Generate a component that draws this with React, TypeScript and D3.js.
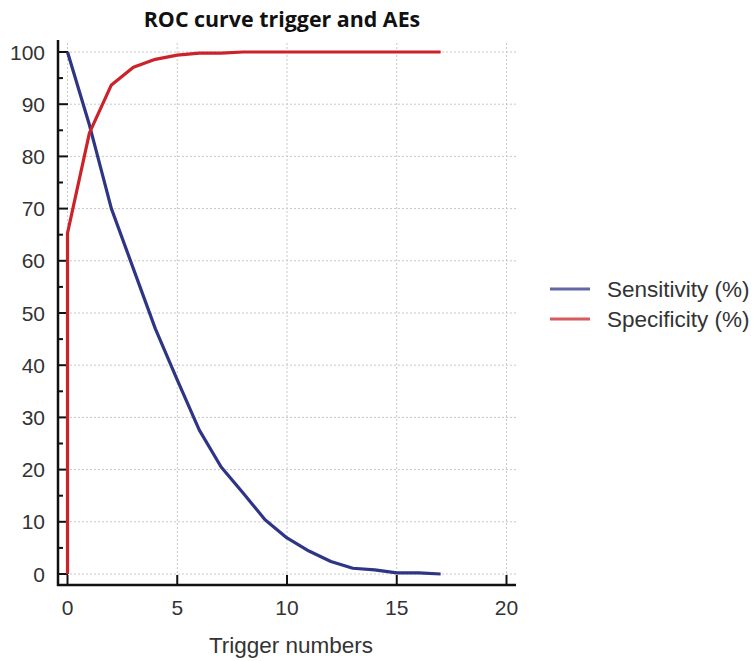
import * as d3 from "d3";

const triggers = [0, 1, 2, 3, 4, 5, 6, 7, 8, 9, 10, 11, 12, 13, 14, 15, 16, 17];
const sensitivity = [100, 86, 70, 58.5, 47, 37.2, 27.6, 20.5, 15.5, 10.4, 6.9, 4.4, 2.4, 1.1, 0.8, 0.2, 0.2, 0];
const specificity = [65.3, 84.5, 93.7, 97.1, 98.6, 99.4, 99.8, 99.8, 100, 100, 100, 100, 100, 100, 100, 100, 100, 100];

const xTicks = [0, 5, 10, 15, 20];
const yTicks = [0, 10, 20, 30, 40, 50, 60, 70, 80, 90, 100];
const yMinorTicks = [5, 15, 25, 35, 45, 55, 65, 75, 85, 95];

const series = [
  { name: "Sensitivity (%)", values: sensitivity, color: "#2f3585" },
  { name: "Specificity (%)", values: specificity, color: "#cc2229" },
];

const W = 756;
const H = 661;
const FONT = "Arial, 'Liberation Sans', sans-serif";

export default function App() {
  // plot frame: axis lines at left=58, bottom=585
  const x = d3.scaleLinear().domain([0, 20]).range([67.5, 506.5]);
  const y = d3.scaleLinear().domain([0, 100]).range([574, 52]);
  const left = 58;
  const right = 516;
  const top = 40;
  const bottom = 585;

  const line = d3
    .line<number>()
    .x((_, i) => x(triggers[i]))
    .y((v) => y(v));

  // specificity starts at 0 on the vertical step at trigger 0
  const specPath = `M${x(0)},${y(0)}L` + (line(specificity) ?? "").slice(1);

  return (
    <svg width={W} height={H} style={{ position: "absolute", left: 0, top: 0, background: "#fff" }}>
      <text x={282} y={26.5} textAnchor="middle" fontFamily="'Open Sans', sans-serif" fontWeight="700" fontSize="21.4" fill="#111">
        ROC curve trigger and AEs
      </text>

      {/* grid */}
      {yTicks.map((t) => (
        <line key={"gy" + t} x1={left} x2={right} y1={y(t)} y2={y(t)} stroke="#c8c8c8" strokeDasharray="2,2" />
      ))}
      {xTicks.map((t) => (
        <line key={"gx" + t} x1={x(t)} x2={x(t)} y1={top + 3} y2={bottom} stroke="#c8c8c8" strokeDasharray="2,2" />
      ))}

      {/* axes */}
      <line x1={left} x2={left} y1={top} y2={bottom + 1} stroke="#111" strokeWidth="2.5" />
      <line x1={left - 1} x2={right} y1={bottom} y2={bottom} stroke="#111" strokeWidth="2.5" />
      {yTicks.map((t) => (
        <line key={"ty" + t} x1={left} x2={left + 10} y1={y(t)} y2={y(t)} stroke="#111" strokeWidth="2" />
      ))}
      {yMinorTicks.map((t) => (
        <line key={"tm" + t} x1={left} x2={left + 5} y1={y(t)} y2={y(t)} stroke="#111" strokeWidth="2" />
      ))}
      {xTicks.map((t) => (
        <line key={"tx" + t} x1={x(t)} x2={x(t)} y1={bottom} y2={bottom - 10} stroke="#111" strokeWidth="2" />
      ))}

      {yTicks.map((t) => (
        <text key={"ly" + t} x={45} y={y(t)} dy="0.36em" textAnchor="end" fontFamily={FONT} fontSize="21" fill="#333">
          {t}
        </text>
      ))}
      {xTicks.map((t) => (
        <text key={"lx" + t} x={x(t)} y={615} textAnchor="middle" fontFamily={FONT} fontSize="21" fill="#333">
          {t}
        </text>
      ))}
      <text x={291} y={653} textAnchor="middle" fontFamily={FONT} fontSize="22.5" fill="#333">
        Trigger numbers
      </text>

      {/* series */}
      <path d={line(sensitivity) ?? undefined} fill="none" stroke={series[0].color} strokeWidth="3.2" strokeLinejoin="round" />
      <path d={specPath} fill="none" stroke={series[1].color} strokeWidth="3.2" strokeLinejoin="round" />

      {/* legend */}
      {series.map((s, i) => (
        <g key={s.name} transform={`translate(550 ${289 + i * 30})`}>
          <line x1={0} x2={40} y1={0} y2={0} stroke={s.color} strokeWidth="3" opacity="0.75" />
          <text x={57} y={0} dy="0.36em" fontFamily={FONT} fontSize="22.5" fill="#333">
            {s.name}
          </text>
        </g>
      ))}
    </svg>
  );
}
